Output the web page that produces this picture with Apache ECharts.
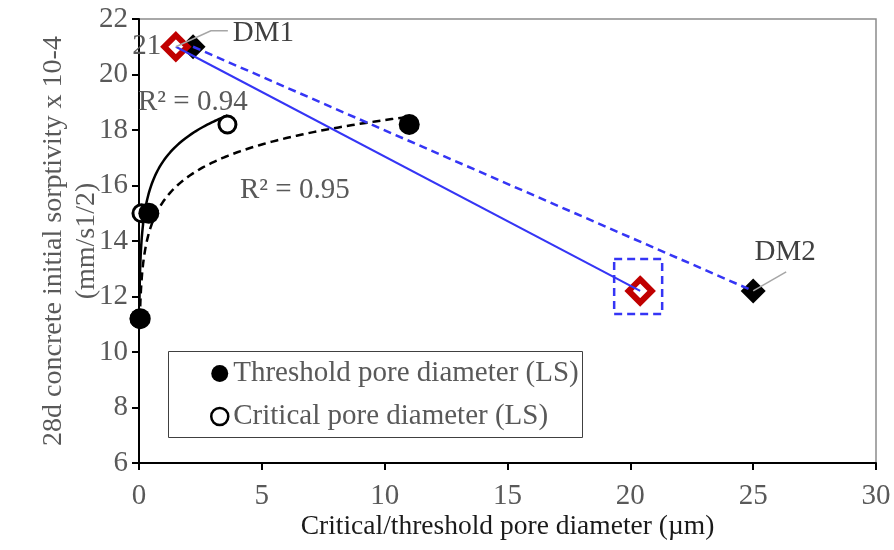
<!DOCTYPE html>
<html>
<head>
<meta charset="utf-8">
<script src="https://cdn.jsdelivr.net/npm/echarts@6/dist/echarts.min.js"></script>
<style>
  html, body { margin: 0; padding: 0; background: #ffffff; }
  #chart { width: 894px; height: 550px; }
</style>
</head>
<body>
<div id="chart"></div>
<script>
// Threshold pore diameter (LS): diameter (µm) vs 28d initial sorptivity
const thresholdX = [0.05, 0.4, 11];
const thresholdY = [11.2, 15, 18.2];
// Critical pore diameter (LS)
const criticalX = [0.02, 0.1, 3.6];
const criticalY = [11.2, 15, 18.2];
// DM mixes: black = threshold diameter, red = critical diameter
const dmNames = ['DM1', 'DM2'];
const dmThresholdX = [2.2, 25];
const dmThresholdY = [21, 12.2];
const dmCriticalX = [1.5, 20.4];
const dmCriticalY = [21, 12.2];
// Axis ranges / ticks
const xTicks = [0, 5, 10, 15, 20, 25, 30];
const yTicks = [6, 8, 10, 12, 14, 16, 18, 20, 22];
// Trendline annotations
const r2Critical = 'R² = 0.94';
const r2Threshold = 'R² = 0.95';

const FONT = "'Liberation Serif', 'Times New Roman', serif";
const GRAY = '#595959';
const BLUE = '#3535f5';
const RED = '#c00000';

const zip = (xs, ys) => xs.map((x, i) => [x, ys[i]]);

// Least-squares logarithmic trendline y = a ln(x) + b over the data range
function logTrend(xs, ys, steps) {
  const lx = xs.map(Math.log);
  const n = xs.length;
  const mx = lx.reduce((s, v) => s + v, 0) / n;
  const my = ys.reduce((s, v) => s + v, 0) / n;
  let sxx = 0, sxy = 0;
  for (let i = 0; i < n; i++) {
    sxx += (lx[i] - mx) * (lx[i] - mx);
    sxy += (lx[i] - mx) * (ys[i] - my);
  }
  const a = sxy / sxx, b = my - a * mx;
  const lo = Math.min(...xs), hi = Math.max(...xs);
  const pts = [];
  for (let k = 0; k <= steps; k++) {
    const x = lo * Math.pow(hi / lo, k / steps);
    pts.push([x, a * Math.log(x) + b]);
  }
  return pts;
}

const chart = echarts.init(document.getElementById('chart'), null, { renderer: 'canvas' });

const option = {
  animation: false,
  backgroundColor: '#ffffff',
  textStyle: { fontFamily: FONT },
  grid: {
    left: 139, right: 18, top: 19, bottom: 87,
    show: true, borderColor: '#8c8c8c', borderWidth: 1.5, backgroundColor: 'transparent'
  },
  xAxis: {
    type: 'value',
    min: xTicks[0], max: xTicks[xTicks.length - 1], interval: xTicks[1] - xTicks[0],
    name: 'Critical/threshold pore diameter (µm)',
    nameLocation: 'middle', nameGap: 50, nameMoveOverlap: false,
    nameTextStyle: { fontFamily: FONT, fontSize: 27.5, color: '#1a1a1a' },
    axisLine: { onZero: false, lineStyle: { color: '#000', width: 2 } },
    axisTick: { show: true, inside: false, length: 7, lineStyle: { color: '#000', width: 2 } },
    axisLabel: { fontFamily: FONT, fontSize: 29, color: GRAY, margin: 19 },
    splitLine: { show: false }
  },
  yAxis: {
    type: 'value',
    min: yTicks[0], max: yTicks[yTicks.length - 1], interval: yTicks[1] - yTicks[0],
    name: '28d concrete initial sorptivity x 10-4\n(mm/s1/2)',
    nameLocation: 'middle', nameGap: 36, nameRotate: 90, nameMoveOverlap: false,
    nameTextStyle: { fontFamily: FONT, fontSize: 28, color: GRAY, lineHeight: 33, align: 'center' },
    axisLine: { onZero: false, lineStyle: { color: '#000', width: 2 } },
    axisTick: { show: true, inside: false, length: 7, lineStyle: { color: '#000', width: 2 } },
    axisLabel: { fontFamily: FONT, fontSize: 29, color: GRAY, margin: 11 },
    splitLine: { show: false }
  },
  legend: {
    orient: 'vertical',
    left: 205, top: 354,
    padding: 5,
    itemWidth: 17, itemHeight: 17, itemGap: 14, itemTextGap: 6,
    icon: 'circle',
    textStyle: { fontFamily: FONT, fontSize: 29, color: GRAY },
    data: [
      { name: 'Threshold pore diameter (LS)', itemStyle: { color: '#000', borderWidth: 0, opacity: 1 } },
      { name: 'Critical pore diameter (LS)', itemStyle: { color: '#fff', borderColor: '#000', borderWidth: 2.5, opacity: 1 } }
    ]
  },
  series: [
    {
      name: 'Critical trend', type: 'line', showSymbol: false, smooth: false, z: 2,
      data: logTrend(criticalX, criticalY, 160),
      lineStyle: { color: '#000', width: 2.5 }
    },
    {
      name: 'Threshold trend', type: 'line', showSymbol: false, smooth: false, z: 2,
      data: logTrend(thresholdX, thresholdY, 160),
      lineStyle: { color: '#000', width: 2.5, type: [8, 5] }
    },
    {
      name: 'Critical pore diameter (LS)', type: 'scatter', z: 3,
      symbol: 'circle', symbolSize: 17,
      data: zip(criticalX, criticalY),
      itemStyle: { color: '#fff', borderColor: '#000', borderWidth: 3, opacity: 1 }
    },
    {
      name: 'Threshold pore diameter (LS)', type: 'scatter', z: 4,
      symbol: 'circle', symbolSize: 21,
      data: zip(thresholdX, thresholdY),
      itemStyle: { color: '#000', opacity: 1 }
    },
    {
      name: 'DM threshold', type: 'scatter', z: 5,
      symbol: 'diamond', symbolSize: 25,
      data: zip(dmThresholdX, dmThresholdY),
      itemStyle: { color: '#000', opacity: 1 }
    },
    {
      name: 'DM critical', type: 'scatter', z: 6,
      symbol: 'diamond', symbolSize: 23,
      data: zip(dmCriticalX, dmCriticalY).map((p, i) => ({
        value: p,
        label: i === 0 ? {
          show: true, position: 'left', distance: 0,
          formatter: String(dmCriticalY[0]),
          fontFamily: FONT, fontSize: 29, color: GRAY
        } : { show: false }
      })),
      itemStyle: { color: '#fff', borderColor: RED, borderWidth: 6, opacity: 1 }
    },
    {
      name: 'DM critical link', type: 'line', showSymbol: false, z: 7,
      data: zip(dmCriticalX, dmCriticalY),
      lineStyle: { color: BLUE, width: 2 }
    },
    {
      name: 'DM threshold link', type: 'line', showSymbol: false, z: 7,
      data: zip(dmThresholdX, dmThresholdY),
      lineStyle: { color: BLUE, width: 2.5, type: [8, 5] }
    }
  ]
};

chart.setOption(option);

// Annotations anchored to the plotted DM points
const px = (x, y) => chart.convertToPixel({ gridIndex: 0 }, [x, y]);
const dm1 = px(dmCriticalX[0], dmCriticalY[0]);
const dm2 = px(dmThresholdX[1], dmThresholdY[1]);
const dm2c = px(dmCriticalX[1], dmCriticalY[1]);
const leader = { stroke: '#a6a6a6', lineWidth: 1.5, fill: null };
const noteText = (x, y, text, color, align) => ({
  type: 'text', x: x, y: y, z: 20,
  style: { text: text, fontFamily: FONT, fontSize: 29, fill: color, align: align || 'left', verticalAlign: 'middle' }
});

chart.setOption({
  graphic: [
    // legend frame
    { type: 'rect', z: 20, shape: { x: 168.5, y: 351.5, width: 414, height: 86 },
      style: { fill: null, stroke: '#404040', lineWidth: 1 } },
    // DM1 leader + label
    { type: 'polyline', z: 20, shape: { points: [[dm1[0], dm1[1]], [dm1[0] + 35, dm1[1] - 16], [dm1[0] + 52, dm1[1] - 16]] },
      style: leader },
    noteText(dm1[0] + 57, dm1[1] - 13, dmNames[0], '#404040'),
    // DM2 leader + label
    { type: 'polyline', z: 20, shape: { points: [[dm2[0], dm2[1]], [dm2[0] + 33, dm2[1] - 19]] },
      style: leader },
    noteText(dm2[0] + 32, dm2[1] - 39, dmNames[1], '#404040', 'center'),
    // highlight frame around the DM2 critical point
    { type: 'rect', z: 20, shape: { x: dm2c[0] - 26, y: dm2c[1] - 32, width: 48, height: 55 },
      style: { fill: null, stroke: BLUE, lineWidth: 2.5, lineDash: [8, 5] } },
    // trendline R² values
    noteText(138, 102, r2Critical, GRAY),
    noteText(240, 190, r2Threshold, GRAY)
  ]
});
</script>
</body>
</html>
